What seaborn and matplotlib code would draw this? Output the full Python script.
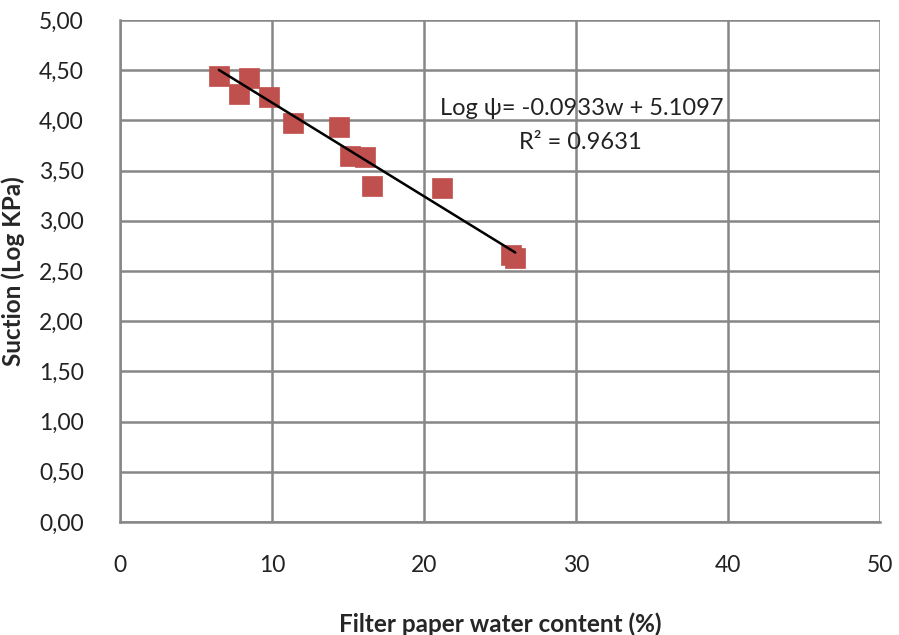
import numpy as np
import pandas as pd
import matplotlib
matplotlib.use("Agg")
import matplotlib.pyplot as plt
import seaborn as sns
from matplotlib.ticker import FuncFormatter

# data
water_content = [6.5, 8.5, 7.8, 9.8, 11.4, 14.4, 15.1, 16.1, 16.6, 21.2, 25.7, 26.0]
suction_log = [4.44, 4.42, 4.26, 4.23, 3.97, 3.93, 3.65, 3.64, 3.35, 3.33, 2.66, 2.63]
slope = -0.0933
intercept = 5.1097
r2 = 0.9631

df = pd.DataFrame({"w": water_content, "psi": suction_log})

sns.set_style("white")
plt.rcParams['font.family'] = ['Lato', 'DejaVu Sans']

fig = plt.figure(figsize=(8.99, 6.35), dpi=100)
ax = fig.add_axes([0.1335, 0.178, 0.8455, 0.7905])

grid_col = "#878787"
ax.grid(True, color=grid_col, linewidth=1.8)
ax.set_axisbelow(True)

sns.scatterplot(data=df, x="w", y="psi", marker="s", s=210, color="#C0504D",
                edgecolor="#C0504D", linewidth=0.5, ax=ax, zorder=3)

xs = np.array([min(water_content), max(water_content)])
trend = pd.DataFrame({"w": xs, "psi": slope * xs + intercept})
sns.lineplot(data=trend, x="w", y="psi", color="black", linewidth=1.8, ax=ax, zorder=4)

ax.set_xlim(0, 50)
ax.set_ylim(0, 5)
ax.set_xticks(np.arange(0, 51, 10))
ax.set_yticks(np.arange(0, 5.01, 0.5))
ax.yaxis.set_major_formatter(FuncFormatter(lambda v, p: f"{v:.2f}".replace(".", ",")))

for s in ["top", "right"]:
    ax.spines[s].set_visible(False)
for s in ["left", "bottom"]:
    ax.spines[s].set_color(grid_col)
    ax.spines[s].set_linewidth(1.8)

ax.tick_params(axis="both", length=0, labelsize=16.5, colors="#222222")
ax.tick_params(axis="y", pad=26)
ax.tick_params(axis="x", pad=24)

ax.set_xlabel("Filter paper water content (%)", fontsize=17.5, fontweight="bold", labelpad=26)
ax.set_ylabel("Suction (Log KPa)", fontsize=17.5, fontweight="bold", labelpad=10)

ax.text(30.4, 4.12, f"Log \u03c8= {slope}w + {intercept}", fontsize=17, ha="center",
        va="center", color="#222222")
ax.text(30.3, 3.78, f"R\u00b2 = {r2}", fontsize=17, ha="center", va="center", color="#222222")

fig.savefig("out.png", dpi=100)
